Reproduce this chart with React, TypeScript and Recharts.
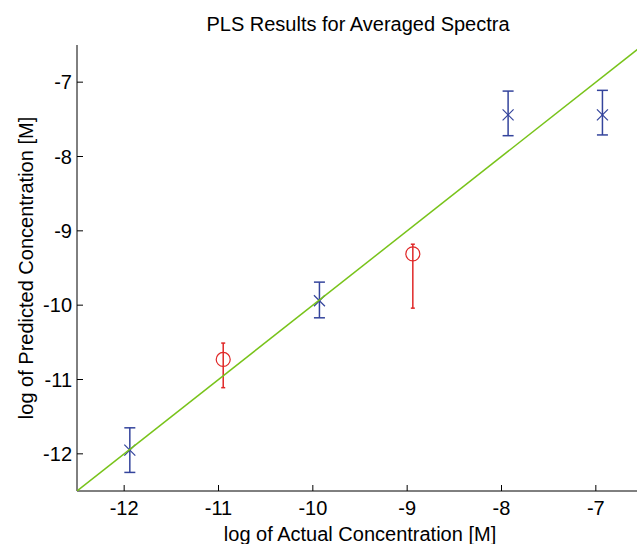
import React from 'react'
import { ErrorBar, Scatter, ScatterChart, XAxis, YAxis } from 'recharts'

// blue "x" points (PLS fit), with [down, up] error distances
const blueActual = [-11.94, -9.93, -7.93, -6.93]
const bluePredicted = [-11.95, -9.94, -7.44, -7.44]
const blueErrDown = [0.3, 0.23, 0.28, 0.27]
const blueErrUp = [0.3, 0.25, 0.32, 0.33]

// red "o" points
const redActual = [-10.95, -8.94]
const redPredicted = [-10.73, -9.31]
const redErrDown = [0.38, 0.73]
const redErrUp = [0.22, 0.13]

// y = x reference line ends
const idealLine = [-12.5, -6.5]

const axisTicks = [-12, -11, -10, -9, -8, -7]
const axisDomain = [-12.5, -6.5]

const FONT = '"Liberation Sans", Arial, Helvetica, sans-serif'
const BLUE = '#34449c'
const RED = '#e02828'
const GREEN = '#78c31a'

const blueData = blueActual.map((x, i) => ({
    x,
    y: bluePredicted[i],
    err: [blueErrDown[i], blueErrUp[i]],
}))
const redData = redActual.map((x, i) => ({
    x,
    y: redPredicted[i],
    err: [redErrDown[i], redErrUp[i]],
}))
const lineData = idealLine.map(v => ({ x: v, y: v }))

const XTick = (props: any) => {
    const { x, y, payload } = props
    return (
        <g>
            <line x1={x} x2={x} y1={y} y2={y - 6} stroke="#000" />
            <text x={x} y={y + 24} textAnchor="middle" fontSize={20} fontFamily={FONT} fill="#000">
                {payload.value}
            </text>
        </g>
    )
}

const YTick = (props: any) => {
    const { x, y, payload } = props
    return (
        <g>
            <line x1={x} x2={x + 6} y1={y} y2={y} stroke="#000" />
            <text x={x - 5} y={y + 7} textAnchor="end" fontSize={20} fontFamily={FONT} fill="#000">
                {payload.value}
            </text>
        </g>
    )
}

const Cross = (props: any) => {
    const { cx, cy } = props
    const s = 5.5
    return (
        <g stroke={BLUE} strokeWidth={1.2}>
            <line x1={cx - s} y1={cy - s} x2={cx + s} y2={cy + s} />
            <line x1={cx - s} y1={cy + s} x2={cx + s} y2={cy - s} />
        </g>
    )
}

const Ring = (props: any) => {
    const { cx, cy } = props
    return <circle cx={cx} cy={cy} r={7} fill="none" stroke={RED} strokeWidth={1.2} />
}

const NoDot = () => null

export default function App() {
    return (
        <div style={{ position: 'absolute', left: 0, top: 0, width: 637, height: 544, overflow: 'hidden', background: '#fff' }}>
            <div style={{ position: 'absolute', left: 0, width: 716, top: 12, textAlign: 'center', fontFamily: FONT, fontSize: 20, color: '#000', lineHeight: '24px' }}>
                PLS Results for Averaged Spectra
            </div>
            <ScatterChart width={660} height={544} margin={{ top: 45, right: 17, bottom: 0, left: 0 }}>
                <XAxis
                    type="number"
                    dataKey="x"
                    domain={axisDomain}
                    ticks={axisTicks}
                    allowDataOverflow
                    height={53}
                    tickSize={0}
                    tickMargin={0}
                    tick={<XTick />}
                    stroke="#000"
                    label={{ value: 'log of Actual Concentration [M]', position: 'insideBottom', offset: 3, fontSize: 20, fontFamily: FONT, fill: '#000' }}
                />
                <YAxis
                    type="number"
                    dataKey="y"
                    domain={axisDomain}
                    ticks={axisTicks}
                    allowDataOverflow
                    width={77}
                    tickSize={0}
                    tickMargin={0}
                    tick={<YTick />}
                    stroke="#000"
                    label={{ value: 'log of Predicted Concentration [M]', angle: -90, position: 'insideLeft', offset: 26, fontSize: 20, fontFamily: FONT, fill: '#000', style: { textAnchor: 'middle' } }}
                />
                <Scatter data={blueData} shape={<Cross />} isAnimationActive={false}>
                    <ErrorBar dataKey="err" direction="y" width={5.5} stroke={BLUE} strokeWidth={1.5} isAnimationActive={false} />
                </Scatter>
                <Scatter data={redData} shape={<Ring />} isAnimationActive={false}>
                    <ErrorBar dataKey="err" direction="y" width={2} stroke={RED} strokeWidth={1.5} isAnimationActive={false} />
                </Scatter>
                <Scatter data={lineData} shape={<NoDot />} line={{ stroke: GREEN, strokeWidth: 1.5 }} isAnimationActive={false} />
            </ScatterChart>
        </div>
    )
}
